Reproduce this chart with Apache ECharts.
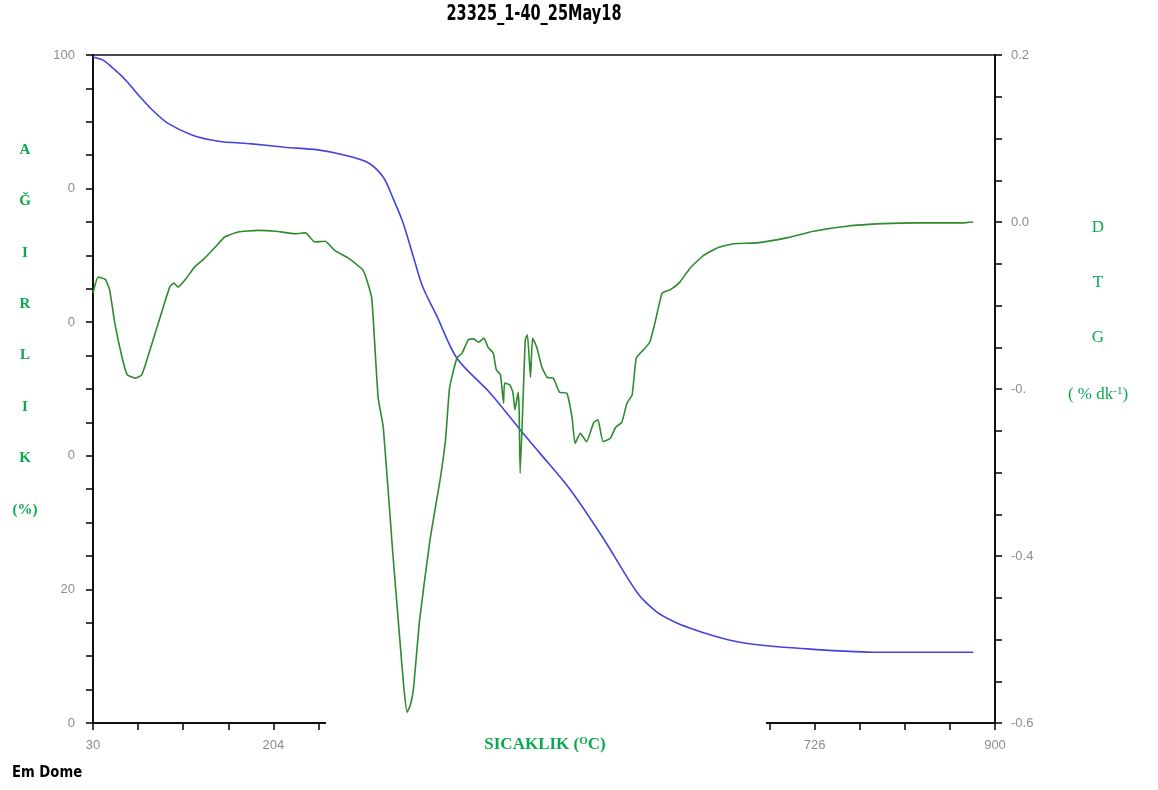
<!DOCTYPE html>
<html>
<head>
<meta charset="utf-8">
<title>23325_1-40_25May18</title>
<script src="https://cdn.jsdelivr.net/npm/echarts@6/dist/echarts.min.js"></script>
<style>
  html, body { margin: 0; padding: 0; background: #fff; }
  #chart { width: 1158px; height: 790px; }
</style>
</head>
<body>
<div id="chart"></div>
<script>
// Thermogravimetric run: weight loss (TG, %) and its derivative (DTG, % dk-1) vs temperature (°C)
const T0 = 30;          // start temperature of the scan
const T_STEP = 174;     // tick spacing on the temperature axis
const T_END = 900;

// TG curve: temperature (°C) and remaining weight (%)
const tgTemp = [30, 40, 48, 56, 64, 75, 87, 102, 126, 151, 183, 215, 247, 273, 295, 310, 319, 329, 339, 348, 362, 381, 413, 442, 461, 490, 522, 555, 574, 590, 606, 630, 654, 685, 719, 750, 782, 830, 879];
const tgWeight = [99.7, 99.2, 98.2, 97.1, 95.8, 93.8, 91.8, 89.8, 88.0, 87.1, 86.7, 86.2, 85.8, 85.0, 83.9, 81.7, 78.7, 74.9, 69.8, 65.3, 60.8, 54.6, 49.4, 43.9, 40.4, 35.0, 27.7, 19.5, 16.6, 15.2, 14.2, 13.0, 12.1, 11.5, 11.1, 10.8, 10.6, 10.6, 10.6];

// DTG curve: temperature (°C) and rate of weight change (% dk-1)
const dtgTemp = [30, 35, 42, 46, 51, 58, 63, 71, 77, 82, 88, 96, 104, 108, 112, 119, 128, 138, 148, 157, 170, 189, 206, 225, 235, 244, 254, 263, 276, 290, 295, 299, 305, 310, 319, 326, 330, 333, 336, 339, 345, 355, 365, 370, 374, 381, 386, 392, 397, 402, 407, 411, 416, 419, 423, 426, 427, 432, 435, 437, 440, 441, 442, 445, 447, 449, 452, 454, 458, 463, 468, 474, 480, 487, 492, 495, 500, 506, 513, 517, 522, 529, 534, 540, 545, 550, 554, 561, 567, 572, 579, 587, 596, 606, 619, 632, 648, 670, 699, 725, 757, 792, 825, 857, 869, 879];
const dtgRate = [-0.085, -0.066, -0.069, -0.081, -0.121, -0.162, -0.183, -0.187, -0.183, -0.165, -0.141, -0.109, -0.078, -0.073, -0.078, -0.069, -0.054, -0.043, -0.030, -0.018, -0.012, -0.010, -0.011, -0.014, -0.013, -0.024, -0.023, -0.034, -0.043, -0.057, -0.073, -0.093, -0.210, -0.246, -0.394, -0.501, -0.560, -0.587, -0.579, -0.560, -0.477, -0.381, -0.307, -0.261, -0.198, -0.163, -0.157, -0.141, -0.140, -0.144, -0.139, -0.150, -0.157, -0.177, -0.183, -0.217, -0.193, -0.195, -0.204, -0.225, -0.204, -0.225, -0.301, -0.205, -0.141, -0.135, -0.186, -0.139, -0.150, -0.174, -0.186, -0.187, -0.204, -0.205, -0.234, -0.265, -0.253, -0.263, -0.240, -0.237, -0.263, -0.259, -0.246, -0.240, -0.217, -0.207, -0.163, -0.153, -0.144, -0.121, -0.085, -0.081, -0.072, -0.055, -0.040, -0.031, -0.026, -0.025, -0.019, -0.011, -0.005, -0.002, -0.001, -0.001, -0.001, 0.000];

// Tick labels as printed on the instrument plot
const tempTickLabels = { 30: '30', 204: '204', 378: '378', 552: '552', 726: '726', 900: '900' };
const weightTickLabels = { 100: '100', 80: '0', 60: '0', 40: '0', 20: '20', 0: '0' };
const rateTickLabels = ['0.2', '0.0', '-0.', '-0.4', '-0.6'];
const rateTickValues = [0.2, 0, -0.2, -0.4, -0.6];

const GREEN = '#0aa84f';
const AXIS_GREY = '#8c8c8c';

// the temperature axis is laid out relative to the start temperature so ticks fall on 30 + n*174
const pair = (xs, ys) => xs.map((t, i) => [t - T0, ys[i]]);

const chart = echarts.init(document.getElementById('chart'), null, { renderer: 'canvas' });

const tickStyle = { lineStyle: { color: '#000', width: 1.5 }, length: 7 };
const minorStyle = { show: true, splitNumber: 4, length: 7, lineStyle: { color: '#000', width: 1.5 } };
const labelStyle = { color: AXIS_GREY, fontFamily: 'Liberation Sans, Arial, sans-serif', fontSize: 13 };

chart.setOption({
  animation: false,
  backgroundColor: '#fff',
  grid: {
    left: 93, right: 163, top: 55, bottom: 67,
    show: true, borderColor: '#111', borderWidth: 1.5, backgroundColor: 'transparent'
  },
  xAxis: {
    type: 'value',
    min: 0, max: T_END - T0, interval: T_STEP,
    axisLine: { show: true, onZero: false, lineStyle: { color: '#111', width: 2 } },
    axisTick: { show: true, ...tickStyle },
    minorTick: minorStyle,
    splitLine: { show: false },
    axisLabel: {
      ...labelStyle, margin: 16,
      formatter: v => tempTickLabels[Math.round(v + T0)] || ''
    }
  },
  yAxis: [
    {
      type: 'value', position: 'left',
      min: 0, max: 100, interval: 20,
      axisLine: { show: true, lineStyle: { color: '#111', width: 2 } },
      axisTick: { show: true, ...tickStyle },
      minorTick: minorStyle,
      splitLine: { show: false },
      axisLabel: { ...labelStyle, margin: 18, formatter: v => weightTickLabels[Math.round(v)] }
    },
    {
      type: 'value', position: 'right',
      min: -0.6, max: 0.2, interval: 0.2,
      axisLine: { show: true, lineStyle: { color: '#111', width: 2 } },
      axisTick: { show: true, ...tickStyle },
      minorTick: minorStyle,
      splitLine: { show: false },
      axisLabel: {
        ...labelStyle, margin: 16,
        formatter: v => {
          const i = rateTickValues.findIndex(t => Math.abs(t - v) < 1e-6);
          return i >= 0 ? rateTickLabels[i] : '';
        }
      }
    }
  ],
  series: [
    {
      name: 'TG', type: 'line', yAxisIndex: 0,
      data: pair(tgTemp, tgWeight),
      showSymbol: false, smooth: 0.3,
      lineStyle: { color: '#4444dd', width: 1.6 }, z: 3
    },
    {
      name: 'DTG', type: 'line', yAxisIndex: 1,
      data: pair(dtgTemp, dtgRate),
      showSymbol: false, smooth: 0.15,
      lineStyle: { color: '#2e8b2e', width: 1.6 }, z: 4
    }
  ],
  graphic: {
    elements: [
      // plate hiding the middle of the temperature axis, under the axis caption
      { type: 'rect', z: 50, shape: { x: 326, y: 716, width: 440, height: 50 }, style: { fill: '#fff' } },
      // run identifier, tightly condensed
      {
        type: 'text', z: 60, x: 534, y: 14, scaleX: 0.66,
        style: {
          text: '23325_1-40_25May18', fill: '#000',
          font: 'bold 22px "DejaVu Sans", sans-serif',
          align: 'center', verticalAlign: 'middle'
        }
      },
      // operator tag
      {
        type: 'text', z: 60, x: 12, y: 773, scaleX: 0.88,
        style: {
          text: 'Em Dome', fill: '#000',
          font: 'bold 15px "DejaVu Sans", sans-serif',
          align: 'left', verticalAlign: 'middle'
        }
      },
      // left axis title, stacked letters
      ...['A', 'Ğ', 'I', 'R', 'L', 'I', 'K', '(%)'].map((ch, i) => ({
        type: 'text', z: 60, x: 25, y: 150 + i * 51.4,
        style: {
          text: ch, fill: GREEN,
          font: 'bold 15px "Liberation Serif", "Times New Roman", serif',
          align: 'center', verticalAlign: 'middle'
        }
      })),
      // right axis title
      ...['D', 'T', 'G'].map((ch, i) => ({
        type: 'text', z: 60, x: 1098, y: 228 + i * 55,
        style: {
          text: ch, fill: GREEN,
          font: '17px "Liberation Serif", "Times New Roman", serif',
          align: 'center', verticalAlign: 'middle'
        }
      })),
      {
        type: 'text', z: 60, x: 1098, y: 395,
        style: {
          text: '( % dk{sup|-1})', fill: GREEN,
          font: '17px "Liberation Serif", "Times New Roman", serif',
          align: 'center', verticalAlign: 'middle',
          rich: {
            sup: { fontSize: 11, fill: GREEN, fontFamily: 'Liberation Serif', padding: [0, 0, 8, 0] }
          }
        }
      },
      // temperature axis caption
      {
        type: 'text', z: 60, x: 545, y: 745,
        style: {
          text: 'SICAKLIK ({sup|O}C)', fill: GREEN,
          font: 'bold 17px "Liberation Serif", "Times New Roman", serif',
          align: 'center', verticalAlign: 'middle',
          rich: {
            sup: { fontSize: 11, fontWeight: 'bold', fill: GREEN, fontFamily: 'Liberation Serif', padding: [0, 0, 8, 0] }
          }
        }
      }
    ]
  }
});
</script>
</body>
</html>
